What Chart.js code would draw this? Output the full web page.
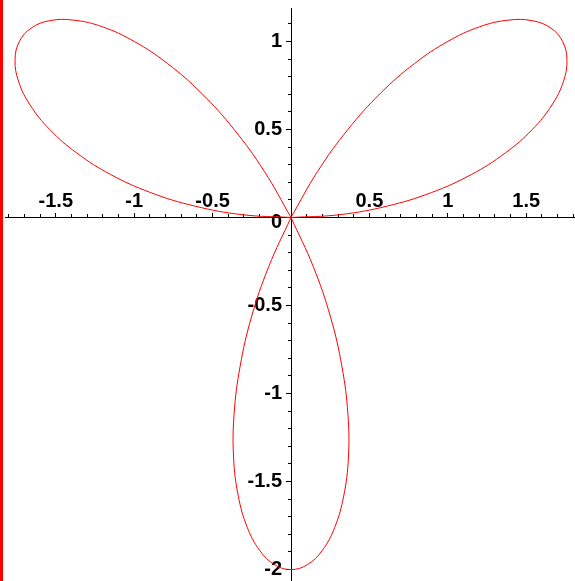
<!DOCTYPE html>
<html>
<head>
<meta charset="utf-8">
<script src="https://cdn.jsdelivr.net/npm/chart.js@4/dist/chart.umd.min.js"></script>
<style>
  html, body { margin: 0; padding: 0; background: #fff; overflow: hidden; }
  body { width: 575px; height: 581px; position: relative; }
  #edge { position: absolute; left: 0; top: 0; width: 3px; height: 581px; background: #ff0000; }
  #wrap { position: absolute; left: 3px; top: 0; width: 574px; height: 581px; }
</style>
</head>
<body>
<div id="edge"></div>
<div id="wrap"><canvas id="rose"></canvas></div>
<script>
// axis extents and labelled ticks
const xRange = [-1.824, 1.824];
const yRange = [-2.065, 1.19];
const xTickValues = [-1.5, -1, -0.5, 0.5, 1, 1.5];
const yTickValues = [1, 0.5, 0, -0.5, -1, -1.5, -2];

// three-leaved rose, one loop per petal, each starting and ending at the origin
const rightPetal = [
  [0, 0], [0.312, 0.016], [0.615, 0.065], [0.897, 0.142], [1.150, 0.244],
  [1.366, 0.366], [1.539, 0.500], [1.664, 0.639], [1.738, 0.774], [1.760, 0.897],
  [1.732, 1.000], [1.657, 1.076], [1.539, 1.118], [1.385, 1.121], [1.202, 1.083],
  [1.000, 1.000], [0.787, 0.874], [0.571, 0.706], [0.363, 0.500], [0.170, 0.262], [0, 0]
];
const lowerPetal = [
  [0, 0], [-0.142, -0.279], [-0.252, -0.565], [-0.325, -0.848], [-0.363, -1.118],
  [-0.366, -1.366], [-0.336, -1.583], [-0.279, -1.760], [-0.199, -1.892], [-0.103, -1.973],
  [0, -2.000], [0.103, -1.973], [0.199, -1.892], [0.279, -1.760], [0.336, -1.583],
  [0.366, -1.366], [0.363, -1.118], [0.325, -0.848], [0.252, -0.565], [0.142, -0.279], [0, 0]
];
const leftPetal = [
  [0, 0], [-0.170, 0.262], [-0.363, 0.500], [-0.571, 0.706], [-0.787, 0.874],
  [-1.000, 1.000], [-1.202, 1.083], [-1.385, 1.121], [-1.539, 1.118], [-1.657, 1.076],
  [-1.732, 1.000], [-1.760, 0.897], [-1.738, 0.774], [-1.664, 0.639], [-1.539, 0.500],
  [-1.366, 0.366], [-1.150, 0.244], [-0.897, 0.142], [-0.615, 0.065], [-0.312, 0.016], [0, 0]
];

const toPoints = arr => arr.map(([x, y]) => ({ x, y }));

const petalStyle = {
  borderColor: '#ff0000',
  borderWidth: 1,
  pointRadius: 0,
  showLine: true,
  tension: 0.4,
  fill: false,
  clip: false,
  xAxisID: 'x',
  yAxisID: 'y'
};

const labelFont = { family: '"Liberation Sans", Arial, sans-serif', size: 20, weight: 'bold' };

// the origin label sits a little below the x axis
const yLabelFont = ctx => (ctx.tick && ctx.tick.value === 0) ? { ...labelFont, lineHeight: 0.55 } : labelFont;
const yLabel = v => v === 0 ? ['', '0'] : String(v);

// major ticks come from the value lists above, minor ticks every 0.1
const useTicks = values => scale => { scale.ticks = values.map(value => ({ value })); };

// keep the plot area at the layout padding, labels may overhang
const noPadding = scale => {
  scale.paddingTop = 0;
  scale.paddingBottom = 0;
  scale.paddingLeft = 0;
  scale.paddingRight = 0;
};

new Chart(document.getElementById('rose'), {
  type: 'scatter',
  data: {
    datasets: [
      { data: toPoints(rightPetal), ...petalStyle },
      { data: toPoints(lowerPetal), ...petalStyle },
      { data: toPoints(leftPetal), ...petalStyle }
    ]
  },
  options: {
    responsive: true,
    maintainAspectRatio: false,
    animation: false,
    layout: { padding: { left: 2, top: 8, right: 0, bottom: 0 } },
    plugins: { legend: { display: false }, tooltip: { enabled: false } },
    scales: {
      x: {
        type: 'linear',
        position: { y: 0 },
        min: xRange[0],
        max: xRange[1],
        afterBuildTicks: useTicks(xTickValues),
        afterFit: noPadding,
        grid: { drawOnChartArea: false, drawTicks: true, tickLength: -5, tickColor: '#000', tickWidth: 1 },
        border: { display: true, color: '#000', width: 1 },
        ticks: { color: '#000', font: labelFont, padding: -23, maxRotation: 0, autoSkip: false, callback: v => String(v) }
      },
      xMinor: {
        axis: 'x',
        type: 'linear',
        position: { y: 0 },
        min: xRange[0],
        max: xRange[1],
        afterFit: noPadding,
        grid: { drawOnChartArea: false, drawTicks: true, tickLength: -3, tickColor: '#000', tickWidth: 1 },
        border: { display: false },
        ticks: { display: false, stepSize: 0.1, includeBounds: false }
      },
      y: {
        type: 'linear',
        position: 'center',
        min: yRange[0],
        max: yRange[1],
        afterBuildTicks: useTicks(yTickValues),
        afterFit: noPadding,
        grid: { drawOnChartArea: false, drawTicks: true, tickLength: 5, tickColor: '#000', tickWidth: 1 },
        border: { display: true, color: '#000', width: 1 },
        ticks: { color: '#000', font: yLabelFont, padding: 4, autoSkip: false, callback: yLabel }
      },
      yMinor: {
        axis: 'y',
        type: 'linear',
        position: 'center',
        min: yRange[0],
        max: yRange[1],
        afterFit: noPadding,
        grid: { drawOnChartArea: false, drawTicks: true, tickLength: 3, tickColor: '#000', tickWidth: 1 },
        border: { display: false },
        ticks: { display: false, stepSize: 0.1, includeBounds: false }
      }
    }
  }
});
</script>
</body>
</html>
